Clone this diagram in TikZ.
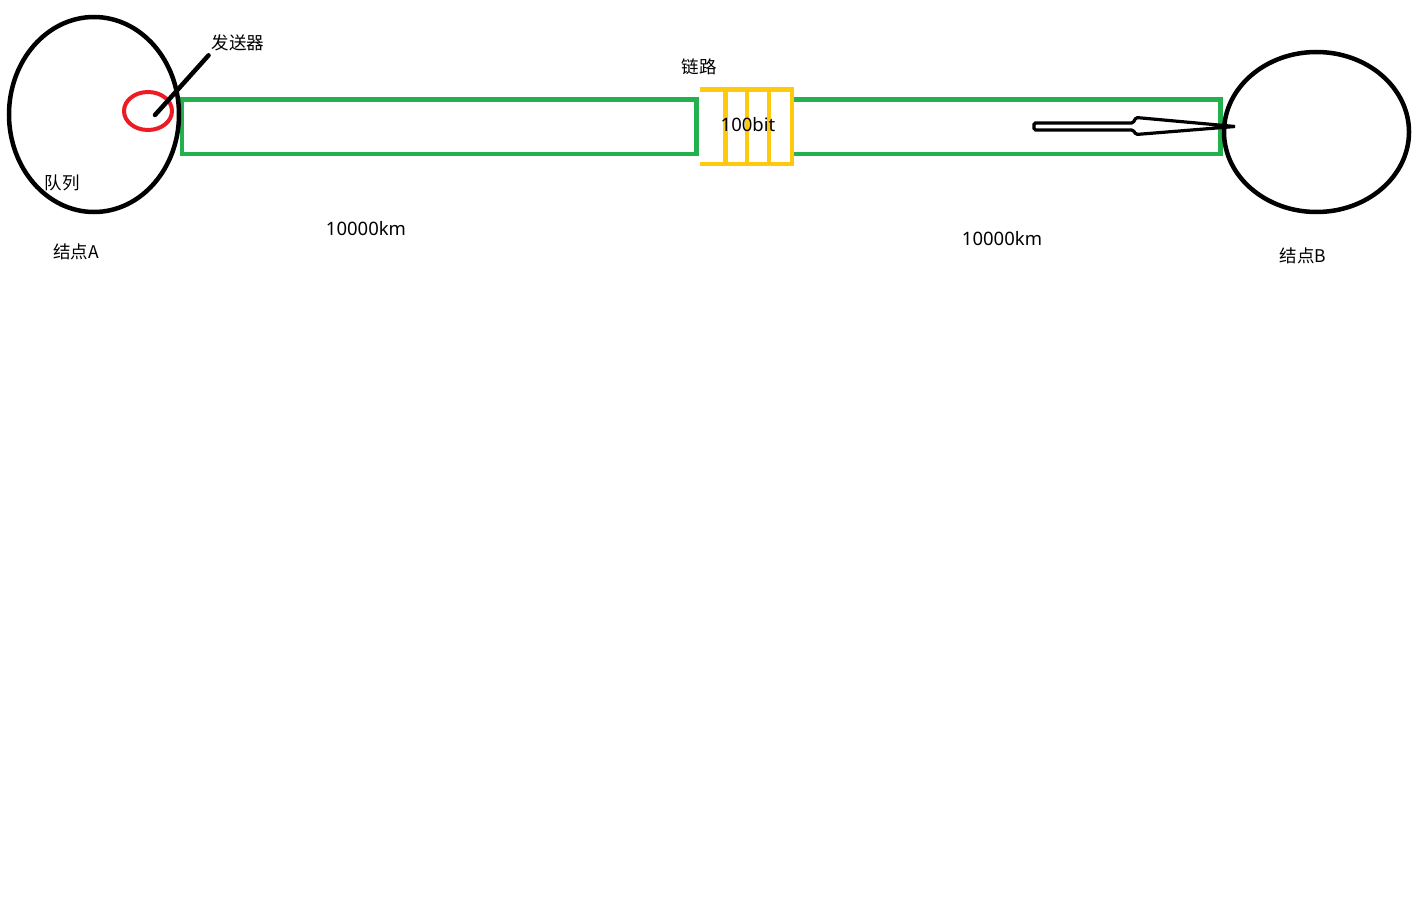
\documentclass[tikz,border=0pt]{standalone}
\usepackage{fontspec}
\setmainfont{Noto Sans}
\newfontfamily\cjk{Noto Sans CJK SC}
\usepackage{xcolor}
\usepackage{tikz}
\usetikzlibrary{shapes.geometric, calc}
\definecolor{paintgreen}{RGB}{34,177,76}
\definecolor{paintyellow}{RGB}{255,201,14}
\definecolor{paintred}{RGB}{237,28,36}
\tikzset{
    station/.style={ellipse, draw=black, line width=4.5pt, inner sep=0pt},
    sender/.style={ellipse, draw=paintred, line width=4pt, inner sep=0pt, minimum width=48pt, minimum height=38pt},
    linkbox/.style={rectangle, draw=paintgreen, line width=4.2pt, inner sep=0pt, minimum height=54.5pt},
    bitline/.style={draw=paintyellow, line width=4.5pt},
    pointer/.style={line width=4.5pt, line cap=round},
    hollowarrow/.style={line width=3.2pt, rounded corners=1.5pt},
    label/.style={inner sep=2pt, font=\fontsize{18.5}{20}\selectfont},
    cnlabel/.style={inner sep=2pt, font=\cjk\fontsize{17.5}{20}\selectfont}
}
\begin{document}
\begin{tikzpicture}[x=1pt, y=-1pt]
    \useasboundingbox[fill=white] (0,0) rectangle (1424,912);

    \node (linkL) [linkbox, minimum width=514.5pt] at (439.25,126.75) {};
    \node (linkR) [linkbox, minimum width=428.5pt] at (1006.25,126.75) {};

    \node (nodeA) [station, minimum width=170pt, minimum height=195pt] at (94,114.5) {};
    \node (nodeB) [station, minimum width=185pt, minimum height=160pt] at (1316.5,132) {};

    \node (send) [sender] at (148,111) {};
    \node (sendtxt) [cnlabel] at (238,43) {发送器};
    \coordinate (sendpt) at ($(send.center)+(7,4)$);
    \draw[pointer] (sendpt) -- ($(sendtxt.south west)+(-1,2)$);

    \node (packet) [minimum width=91.2pt, minimum height=74pt, inner sep=0pt] at (746.1,126.7) {};
    \draw[bitline] (packet.north west) -- (packet.north east) -- (packet.south east) -- (packet.south west);
    \foreach \f in {0.276,0.51,0.75}
        \draw[bitline] ($(packet.north west)!\f!(packet.north east)$) -- ($(packet.south west)!\f!(packet.south east)$);
    \node (bits) [label] at (748,125) {100bit};
    \node (linktxt) [cnlabel] at (699,67) {链路};

    \coordinate (arrtip) at (1235,126.5);
    \draw[hollowarrow] (1034,123) -- (1133,123) -- (1136,117.5) -- (arrtip) -- (1136,134.5) -- (1133,130) -- (1034,130) -- cycle;

    \node (queue) [cnlabel] at (62,183) {队列};
    \node (distL) [label] at (366,229) {10000km};
    \node (distR) [label] at (1002,239) {10000km};
    \node (nameA) [cnlabel] at (76,252) {结点A};
    \node (nameB) [cnlabel] at (1303,256) {结点B};
\end{tikzpicture}
\end{document}
